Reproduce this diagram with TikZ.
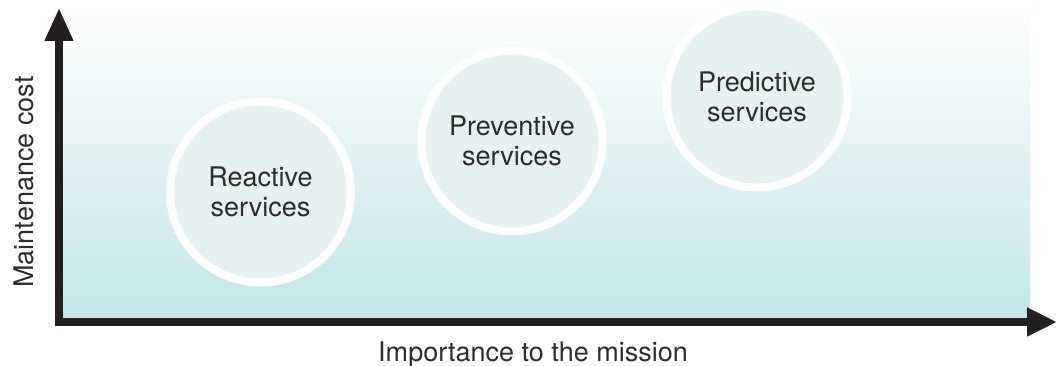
\documentclass[tikz,border=0pt]{standalone}
\usepackage{fontspec}
\setmainfont{TeX Gyre Heros}
\usepackage{xcolor}
\usetikzlibrary{arrows.meta}
\definecolor{inkgray}{HTML}{231F20}
\definecolor{textgray}{HTML}{2E2C2D}
\definecolor{tealbase}{HTML}{C2E5E7}
\definecolor{bubblefill}{HTML}{E6F1F2}

\begin{document}
\begin{tikzpicture}[
    x=1pt, y=1pt,
    service/.style={circle, draw=white, line width=8pt, fill=bubblefill, minimum size=181pt, inner sep=0pt, align=center, text=textgray, font=\fontsize{27}{30}\selectfont},
    axislabel/.style={text=textgray, font=\fontsize{27}{30}\selectfont},
    axis/.style={draw=inkgray, line width=7.5pt, line join=miter, {Triangle[length=33pt, width=27pt]}-{Triangle[length=30pt, width=27pt]}}
]
\useasboundingbox (0,0) rectangle (1057,365);
% shaded area above the cost/importance axes
\shade[top color=white, bottom color=tealbase] (62,46) rectangle (1030,365);
\coordinate (ytip) at (59,357);
\coordinate (xtip) at (1057,43);
\draw[axis] (ytip) |- (xtip);
\node[axislabel, rotate=90] (costlabel) at (24,183) {Maintenance cost};
\node[axislabel, anchor=base] (importancelabel) at (533,4) {Importance to the mission};
% the three kinds of service
\node[service] (reactive) at (260.5,173) {Reactive\\services};
\node[service] (preventive) at (512,224) {Preventive\\services};
\node[service] (predictive) at (757,268) {Predictive\\services};
\end{tikzpicture}
\end{document}
